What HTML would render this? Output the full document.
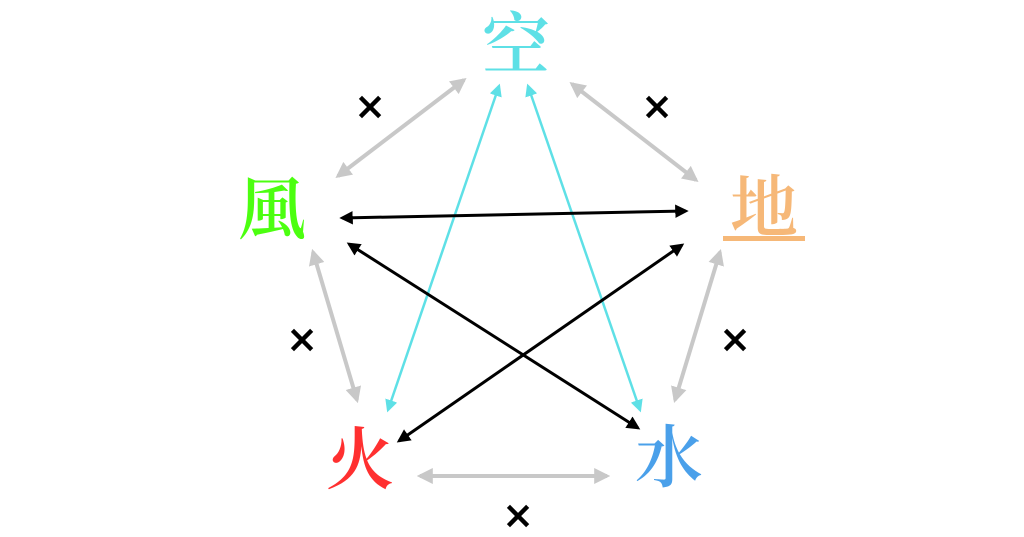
<!DOCTYPE html>
<html><head><meta charset="utf-8"><style>html,body{margin:0;padding:0;background:#fff;}svg{display:block}</style></head>
<body>
<svg width="1024" height="537" viewBox="0 0 1024 537" xmlns="http://www.w3.org/2000/svg">
<defs>
<marker id="g" viewBox="0 0 10 10" refX="8" refY="5" markerWidth="4" markerHeight="4" orient="auto-start-reverse"><path d="M0,0L10,5L0,10z" fill="#c8c8c8"/></marker>
<marker id="c" viewBox="0 0 10 10" refX="8" refY="5" markerWidth="5" markerHeight="5" orient="auto-start-reverse"><path d="M0,0L10,5L0,10z" fill="#5ee0e6"/></marker>
<marker id="k" viewBox="0 0 10 10" refX="8" refY="5" markerWidth="4.5" markerHeight="4.5" orient="auto-start-reverse"><path d="M0,0L10,5L0,10z" fill="#000"/></marker>
</defs>
<g stroke="#c8c8c8" stroke-width="4" marker-start="url(#g)" marker-end="url(#g)">
<line x1="338" y1="176" x2="464" y2="80"/>
<line x1="572" y1="84" x2="696" y2="180"/>
<line x1="313" y1="252" x2="357" y2="400"/>
<line x1="720" y1="252" x2="675" y2="400"/>
<line x1="420" y1="476" x2="607" y2="476"/>
</g>
<g stroke="#5ee0e6" stroke-width="2.5" marker-start="url(#c)" marker-end="url(#c)">
<line x1="499" y1="86" x2="388" y2="410"/>
<line x1="528" y1="86" x2="640" y2="410"/>
</g>
<g stroke="#000" stroke-width="3" marker-start="url(#k)" marker-end="url(#k)">
<line x1="342" y1="218" x2="686" y2="211"/>
<line x1="349" y1="244" x2="638" y2="428"/>
<line x1="682" y1="245" x2="399" y2="441"/>
</g>
<g font-family="DejaVu Sans, sans-serif" font-size="38" text-anchor="middle" dominant-baseline="central" fill="#000" font-weight="bold">
<text x="370" y="106">×</text>
<text x="657" y="106">×</text>
<text x="302" y="339">×</text>
<text x="735" y="339">×</text>
<text x="518" y="515">×</text>
</g>
<g font-family="Noto Serif CJK SC, Noto Sans CJK SC, serif" font-size="68" font-weight="600" text-anchor="middle" dominant-baseline="central">
<text x="516" y="40" fill="#5ee0e6">空</text>
<text x="272" y="205" fill="#4cff10">風</text>
<text x="764" y="203" fill="#f6b878">地</text>
<text x="360" y="455" fill="#ff3030">火</text>
<text x="669" y="453" fill="#4aa0ea">水</text>
</g>
<rect x="723" y="236" width="82" height="5" fill="#f6b878"/>
</svg>
</body></html>
